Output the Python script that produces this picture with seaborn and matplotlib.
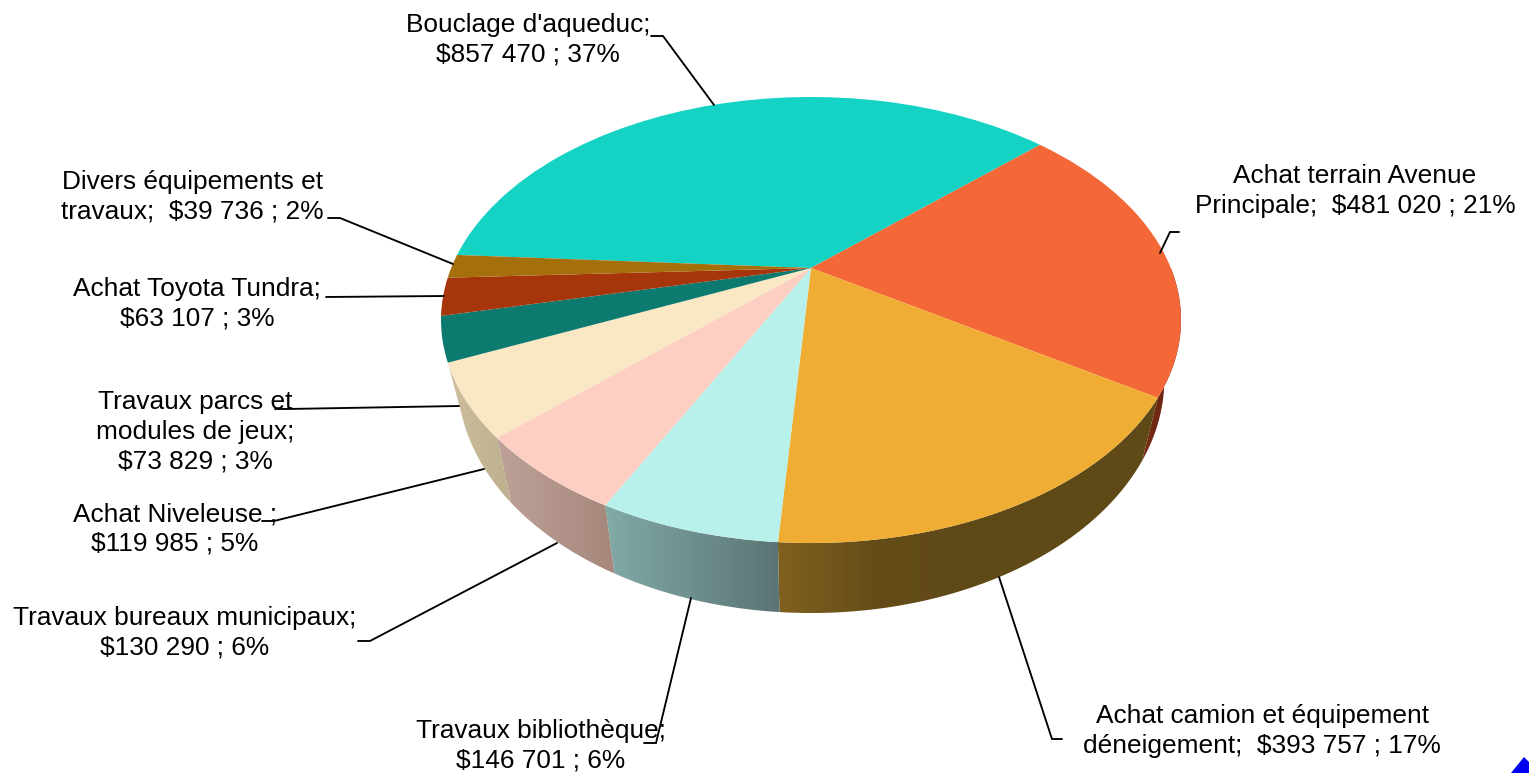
import numpy as np
import matplotlib
matplotlib.use("Agg")
import matplotlib.pyplot as plt
import seaborn as sns
from matplotlib.patches import PathPatch, Polygon
from matplotlib.path import Path
from matplotlib.transforms import Transform

# dollars per project, clockwise from the top slice
projects = ["Bouclage d'aqueduc", "Achat terrain Avenue Principale", "Achat camion et équipement déneigement",
            "Travaux bibliothèque", "Travaux bureaux municipaux", "Achat Niveleuse",
            "Travaux parcs et modules de jeux", "Achat Toyota Tundra", "Divers équipements et travaux"]
amounts = [857470, 481020, 393757, 146701, 130290, 119985, 73829, 63107, 39736]
labels = ["Bouclage d'aqueduc;\n$857 470 ; 37%",
          "Achat terrain Avenue\nPrincipale;  $481 020 ; 21%",
          "Achat camion et équipement\ndéneigement;  $393 757 ; 17%",
          "Travaux bibliothèque;\n$146 701 ; 6%",
          "Travaux bureaux municipaux;\n$130 290 ; 6%",
          "Achat Niveleuse ;\n$119 985 ; 5%",
          "Travaux parcs et\nmodules de jeux;\n$73 829 ; 3%",
          "Achat Toyota Tundra;\n$63 107 ; 3%",
          "Divers équipements et\ntravaux;  $39 736 ; 2%"]

top_colors = ["#14d2c4", "#f46736", "#efae33", "#b8f0ec", "#fdcfc3", "#fae7c3", "#0d7a70", "#a7350c", "#a56f0c"]
# None = wall hidden from this viewpoint
wall_colors = [None, ["#7a2c14", "#5e2010"], ["#80601e", "#644c18", "#5f4a17", "#5f4a17", "#5f4a17"],
               ["#82aaa7", "#5b7574"], ["#bfa297", "#a5877c"], ["#cdbf9f", "#bdb08e"],
               None, None, None]

label_pos = [(528, 40), (1355, 191), (1262, 731), (541, 746), (185, 633), (175, 529), (195, 432), (197, 304), (192, 197)]
leaders = [[(651, 36), (663, 36), (714, 105)],
           [(1179, 232), (1170, 232), (1160, 253)],
           [(1062, 739), (1052, 739), (999, 577)],
           [(644, 743), (656, 743), (691, 598)],
           [(358, 641), (370, 641), (557, 543)],
           [(262, 521), (274, 521), (484, 469)],
           [(275, 409), (287, 409), (459, 406)],
           [(326, 297), (444, 296)],
           [(328, 218), (340, 218), (453, 264)]]

# perspective of the disc
CX, CY = 811, 268
A, B, K = 359.8, 210.9, 0.2332


def project(xy):
    xy = np.asarray(xy, dtype=float)
    w = 1 + K * xy[:, 1]
    return np.column_stack([CX + A * xy[:, 0] / w, CY - B * xy[:, 1] / w])


def drop(pts):
    # same rim seen one slice-height lower
    u = pts[:, 1] - CY
    return np.column_stack([CX + (pts[:, 0] - CX) * 0.955, pts[:, 1] + 56.5 + 0.049 * u])


class DiscTransform(Transform):
    input_dims = 2
    output_dims = 2
    is_separable = False
    has_inverse = False

    def transform_non_affine(self, values):
        return project(values)


def main():
    sns.set_theme(style="white")
    plt.rcParams["font.family"] = ["Liberation Sans", "DejaVu Sans"]

    fig = plt.figure(figsize=(15.29, 7.73), dpi=100)
    ax = fig.add_axes([0, 0, 1, 1])
    wedges, _ = ax.pie(amounts, colors=sns.color_palette(top_colors), startangle=176.4,
                       counterclock=False, wedgeprops={"linewidth": 0, "zorder": 5})
    ax.set_aspect("auto")
    disc = DiscTransform()
    for w in wedges:
        w.set_transform(disc + ax.transData)

    # side walls, only the front half of the rim can show
    for w, stops in zip(wedges, wall_colors):
        t0, t1 = max(w.theta1, -180), min(w.theta2, 0)
        if stops is None or t1 <= t0:
            continue
        th = np.radians(np.linspace(t0, t1, 60))
        rim = project(np.column_stack([np.cos(th), np.sin(th)]))
        low = drop(rim)
        outline = np.vstack([rim, low[::-1]])
        x0, x1 = outline[:, 0].min(), outline[:, 0].max()
        y0, y1 = outline[:, 1].min(), outline[:, 1].max()
        grad = np.array([sns.blend_palette(stops, 64)])[:, :, :3]
        im = ax.imshow(grad, extent=(x0, x1, y1, y0), aspect="auto", zorder=2, interpolation="bilinear")
        clip = PathPatch(Path(outline), transform=ax.transData, fc="none", ec="none")
        ax.add_patch(clip)
        im.set_clip_path(clip)

    for (x, y), text in zip(label_pos, labels):
        ax.text(x, y, text, ha="center", va="center", fontsize=18.9, color="black", linespacing=1.29, zorder=6)
    for pts in leaders:
        pts = np.array(pts)
        ax.plot(pts[:, 0], pts[:, 1], color="black", lw=1.35, zorder=7, solid_joinstyle="miter")

    # stray blue mark in the corner of the source image
    ax.add_patch(Polygon([(1511, 773), (1524, 757), (1529, 762), (1529, 773)], fc="#0000f0", ec="none"))

    ax.set_xlim(0, 1529)
    ax.set_ylim(773, 0)
    ax.axis("off")
    fig.savefig("out.png", dpi=100)
    plt.close(fig)


if __name__ == "__main__":
    main()
